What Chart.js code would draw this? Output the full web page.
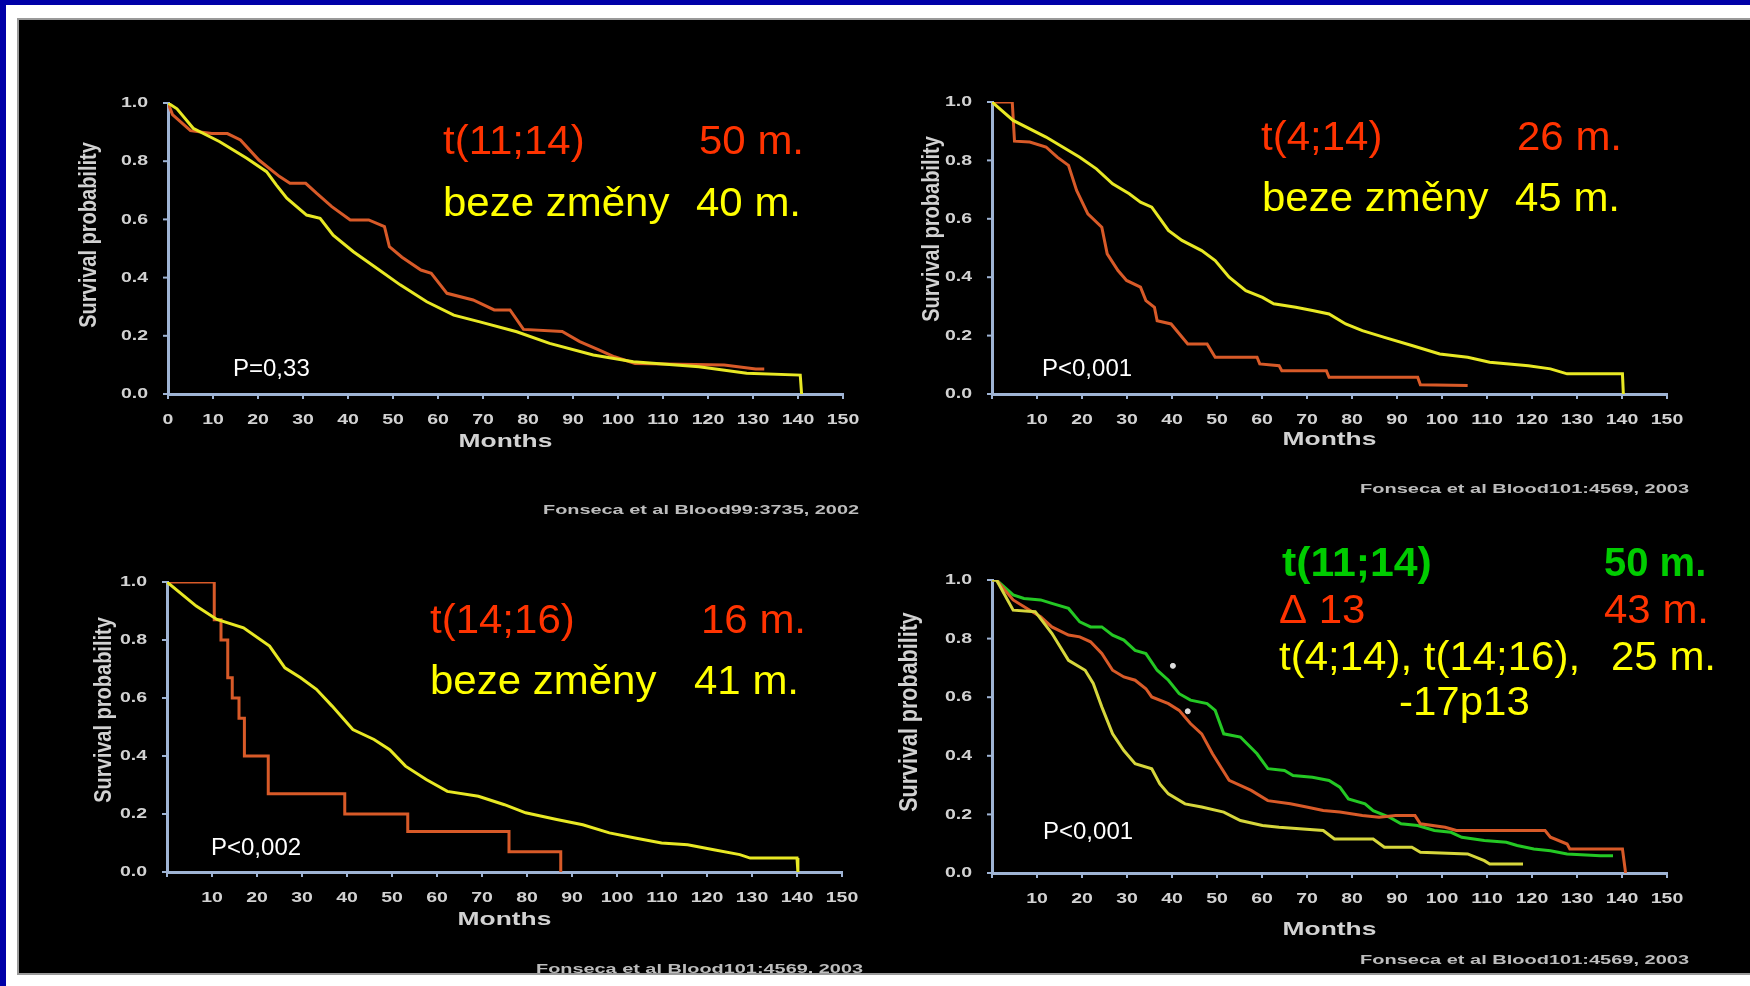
<!DOCTYPE html>
<html><head><meta charset="utf-8">
<script src="https://cdn.jsdelivr.net/npm/chart.js@4.4.1/dist/chart.umd.min.js"></script>
<style>
html,body{margin:0;padding:0;background:#000;}
#page{position:relative;width:1750px;height:986px;background:#000;overflow:hidden;}
.b{position:absolute;}
canvas{position:absolute;left:0;top:0;}
</style></head><body>
<div id="page">
  <div class="b" style="left:0;top:0;width:1750px;height:5px;background:#0000a8;z-index:5"></div>
  <div class="b" style="left:0;top:0;width:6px;height:986px;background:#0000a8;z-index:5"></div>
  <div class="b" style="left:6px;top:5px;width:1744px;height:13px;background:#fff;z-index:4"></div>
  <div class="b" style="left:6px;top:5px;width:11px;height:981px;background:#fff;z-index:4"></div>
  <div class="b" style="left:17px;top:18px;width:1733px;height:2px;background:#9a9a9a;z-index:4"></div>
  <div class="b" style="left:17px;top:18px;width:2px;height:957px;background:#9a9a9a;z-index:4"></div>
  <div class="b" style="left:6px;top:975px;width:1744px;height:11px;background:#fff;z-index:4"></div>
  <div class="b" style="left:17px;top:973px;width:1733px;height:2px;background:#9a9a9a;z-index:4"></div>
  <canvas id="c1" width="1750" height="986"></canvas>
  <canvas id="c2" width="1750" height="986"></canvas>
  <canvas id="c3" width="1750" height="986"></canvas>
  <canvas id="c4" width="1750" height="986"></canvas>
</div>
<script>
// ---------- DATA ----------
// Panel 1: t(11;14) vs beze změny
const p1RedT = [0, 1, 5, 9.7, 13.2, 16.1, 20.2, 24.8, 27.1, 30.6, 33, 36.4, 40.5, 44.6, 48.1, 49.2, 52, 56.2, 58.5, 62, 67.8, 72.5, 76, 79, 87.6, 91.5, 96, 99.2, 103.8, 123.6, 130.6, 132.5];
const p1RedS = [1.0, 0.96, 0.905, 0.895, 0.895, 0.873, 0.804, 0.747, 0.724, 0.724, 0.69, 0.644, 0.598, 0.598, 0.575, 0.506, 0.47, 0.426, 0.415, 0.346, 0.323, 0.289, 0.289, 0.222, 0.215, 0.18, 0.15, 0.128, 0.105, 0.1, 0.086, 0.086];
const p1YelT = [0, 2, 5.6, 11.5, 17.5, 21.9, 24.1, 26.4, 30.8, 33.8, 36.7, 41.2, 46.4, 51.6, 57.5, 63.5, 69.3, 77.5, 84.8, 94.5, 103.4, 118, 128.6, 140.5, 140.8];
const p1YelS = [1.0, 0.98, 0.913, 0.867, 0.81, 0.764, 0.718, 0.673, 0.615, 0.604, 0.546, 0.489, 0.432, 0.375, 0.317, 0.271, 0.248, 0.214, 0.174, 0.134, 0.111, 0.094, 0.071, 0.065, 0.0];

// Panel 2: t(4;14) vs beze změny
const p2RedT = [0, 4.5, 5, 8.4, 12, 14.5, 17, 18.8, 21.3, 24.4, 25.6, 28, 29.9, 33, 34.2, 36.1, 36.7, 39.8, 43.5, 47.8, 49.6, 58.9, 59.5, 63.8, 64.4, 74.3, 74.9, 94.6, 95.2, 105.7];
const p2RedS = [1.0, 1.0, 0.866, 0.863, 0.846, 0.811, 0.783, 0.697, 0.617, 0.571, 0.48, 0.423, 0.389, 0.366, 0.32, 0.297, 0.251, 0.24, 0.171, 0.171, 0.126, 0.126, 0.103, 0.097, 0.08, 0.08, 0.057, 0.057, 0.032, 0.029];
const p2YelT = [0, 4.7, 12, 19.5, 23.2, 26.8, 30.5, 33, 35.5, 39.2, 42.2, 46.6, 49.6, 52.7, 56.4, 60.1, 62.6, 67.5, 71.2, 74.9, 78.6, 82.3, 87.2, 93.3, 99.5, 105.7, 110.6, 119.2, 124.1, 127.8, 138.9, 140.1, 140.3];
const p2YelS = [1.0, 0.937, 0.88, 0.811, 0.771, 0.72, 0.686, 0.657, 0.64, 0.56, 0.526, 0.491, 0.457, 0.4, 0.354, 0.331, 0.309, 0.297, 0.286, 0.274, 0.24, 0.217, 0.194, 0.166, 0.137, 0.126, 0.109, 0.097, 0.086, 0.069, 0.069, 0.069, 0.0];

// Panel 3: t(14;16) vs beze změny
const p3RedT = [0, 10.5, 12, 13.5, 14.5, 16, 17.2, 22.5, 39.5, 53.5, 76, 87.5];
const p3RedS = [1.0, 0.87, 0.80, 0.67, 0.60, 0.53, 0.40, 0.27, 0.20, 0.14, 0.07, 0.0];
const p3YelT = [0, 6.5, 11.1, 17, 22.8, 26.2, 29.7, 33.2, 36.7, 41.3, 46, 49.5, 53, 57.6, 62.3, 69.2, 75, 79.7, 86.6, 92.4, 98.3, 104, 109.9, 115.7, 121.5, 127.3, 129.6, 140, 140.2];
const p3YelS = [1.0, 0.917, 0.871, 0.842, 0.779, 0.704, 0.67, 0.63, 0.572, 0.491, 0.457, 0.422, 0.365, 0.319, 0.278, 0.261, 0.232, 0.204, 0.181, 0.163, 0.135, 0.117, 0.1, 0.094, 0.077, 0.06, 0.048, 0.048, 0.0];

// Panel 4: t(11;14), delta 13, t(4;14)/t(14;16)/-17p13
const p4GrnT = [0, 1, 4.7, 7.1, 10.8, 13.3, 17, 19.5, 21.9, 24.4, 26.8, 29.3, 31.8, 34.2, 36.7, 39.2, 41.6, 44.1, 47.8, 49.6, 51.5, 55.2, 58.9, 61.3, 65, 66.9, 71.2, 74.9, 77.3, 79.2, 82.9, 84.7, 88.4, 90.9, 94.6, 98.3, 102, 104.4, 109.4, 114.3, 116.7, 120.4, 124.1, 127.8, 135.2, 138];
const p4GrnS = [1.0, 1.0, 0.949, 0.937, 0.932, 0.92, 0.903, 0.857, 0.84, 0.84, 0.812, 0.795, 0.76, 0.749, 0.692, 0.658, 0.612, 0.59, 0.578, 0.555, 0.475, 0.464, 0.407, 0.356, 0.35, 0.333, 0.327, 0.316, 0.293, 0.253, 0.236, 0.213, 0.19, 0.168, 0.162, 0.145, 0.139, 0.122, 0.111, 0.105, 0.094, 0.082, 0.076, 0.065, 0.059, 0.059];
const p4RedT = [0, 1, 4.7, 8.4, 10.8, 13.3, 17, 19.5, 21.9, 24.4, 26.8, 29.3, 31.8, 34.2, 35.5, 39.2, 41.6, 44.1, 46.6, 49, 52.7, 57.6, 61.3, 66.3, 69.9, 73.6, 77.3, 82.3, 86, 89.7, 94, 95.2, 100.7, 103.2, 122.9, 124.1, 127.8, 128.4, 140.1, 140.8];
const p4RedS = [1.0, 1.0, 0.932, 0.897, 0.875, 0.84, 0.812, 0.806, 0.789, 0.749, 0.692, 0.669, 0.658, 0.629, 0.601, 0.578, 0.555, 0.51, 0.475, 0.407, 0.316, 0.282, 0.247, 0.236, 0.225, 0.213, 0.208, 0.196, 0.19, 0.196, 0.196, 0.168, 0.156, 0.145, 0.145, 0.122, 0.099, 0.082, 0.082, 0.0];
const p4YelT = [0, 1, 4.7, 9.6, 13.3, 17, 20.7, 22.5, 24.4, 26.8, 29.3, 31.8, 35.5, 37.3, 39.2, 42.9, 46.6, 51.5, 55.2, 60.1, 63.8, 73.6, 76.1, 84.7, 87.2, 93.3, 95.2, 105.7, 109.4, 110.6, 118];
const p4YelS = [1.0, 1.0, 0.897, 0.892, 0.818, 0.726, 0.692, 0.647, 0.567, 0.475, 0.418, 0.373, 0.356, 0.304, 0.27, 0.236, 0.225, 0.208, 0.179, 0.162, 0.156, 0.145, 0.116, 0.116, 0.088, 0.088, 0.071, 0.065, 0.042, 0.031, 0.031];
const p4MarkT = [40.2, 43.5];
const p4MarkS = [0.707, 0.552];

// Tick labels
const xTicksWithZero = [0,10,20,30,40,50,60,70,80,90,100,110,120,130,140,150];
const xTicksNoZero = [10,20,30,40,50,60,70,80,90,100,110,120,130,140,150];
const yTicks = [0, 0.2, 0.4, 0.6, 0.8, 1.0];
const yTickLabels = ['0.0','0.2','0.4','0.6','0.8','1.0'];

// ---------- DRAWING ----------
const FONT = "'Liberation Sans', Arial, sans-serif";
const AXIS = '#9fb4d4';
const LBL = '#d2d2d2';
const RED_T = '#ff3300', YEL_T = '#ffff00', GRN_T = '#00cc00';

function pts(T, S){ return T.map((t,i)=>({x:t, y:S[i]})); }

function txt(ctx, s, x, y, font, color, align, sx, base){
  ctx.save();
  ctx.font = font; ctx.fillStyle = color;
  ctx.textAlign = align || 'left'; ctx.textBaseline = base || 'alphabetic';
  ctx.translate(x, y); ctx.scale(sx || 1, 1);
  ctx.fillText(s, 0, 0);
  ctx.restore();
}
function fitTxt(ctx, s, xRight, y, font, color, width){
  ctx.save(); ctx.font = font;
  const w = ctx.measureText(s).width;
  ctx.fillStyle = color; ctx.textAlign = 'right'; ctx.textBaseline = 'middle';
  ctx.translate(xRight, y); ctx.scale(width / w, 1);
  ctx.fillText(s, 0, 0); ctx.restore();
}

const decorPlugin = {
  id: 'decor',
  afterDraw(chart){
    const cfg = chart.options.plugins.decor;
    const ctx = chart.ctx;
    const xs = chart.scales.x, ys = chart.scales.y;
    const ca = chart.chartArea;
    // tick marks
    ctx.save(); ctx.strokeStyle = AXIS; ctx.lineWidth = 2;
    xTicksWithZero.forEach(v=>{ const px = xs.getPixelForValue(v); ctx.beginPath(); ctx.moveTo(px, ca.bottom); ctx.lineTo(px, ca.bottom+5); ctx.stroke(); });
    yTicks.forEach(v=>{ const py = ys.getPixelForValue(v); ctx.beginPath(); ctx.moveTo(ca.left-5, py); ctx.lineTo(ca.left, py); ctx.stroke(); });
    ctx.restore();
    // tick labels
    const tf = 'bold 15px ' + FONT;
    cfg.xTicks.forEach(v=>{ txt(ctx, String(v), xs.getPixelForValue(v), ca.bottom + 26, tf, LBL, 'center', 1.3, 'middle'); });
    yTicks.forEach((v,i)=>{ txt(ctx, yTickLabels[i], ca.left - 20, ys.getPixelForValue(v), tf, LBL, 'right', 1.3, 'middle'); });
    // axis titles
    txt(ctx, 'Months', (ca.left+ca.right)/2, ca.bottom + cfg.monthsDy, 'bold 19px ' + FONT, LBL, 'center', 1.39, 'middle');
    ctx.save();
    ctx.translate(cfg.yTitle[0], cfg.yTitle[1]); ctx.rotate(-Math.PI/2); ctx.scale(1, 1.2);
    ctx.font = 'bold ' + cfg.yTitle[2] + 'px ' + FONT; ctx.fillStyle = LBL; ctx.textAlign='center'; ctx.textBaseline='middle';
    ctx.fillText('Survival probability', 0, 0); ctx.restore();
    // annotations
    cfg.texts.forEach(t=>{ txt(ctx, t[0], t[1], t[2], (t[5]||'') + ' 40px ' + FONT, t[3], 'left', t[4]); });
    txt(ctx, cfg.p[0], cfg.p[1], cfg.p[2], '24px ' + FONT, '#ffffff', 'left', 1);
    fitTxt(ctx, cfg.cite[0], cfg.cite[1], cfg.cite[2], 'bold 12px ' + FONT, '#bdbdbd', cfg.cite[3]);
  }
};

function makeChart(id, pad, datasets, decor){
  return new Chart(document.getElementById(id), {
    type: 'line',
    data: { datasets },
    options: {
      responsive: false, animation: false, events: [],
      layout: { padding: pad },
      plugins: { legend: {display:false}, tooltip: {enabled:false}, decor },
      elements: { point: { radius: 0 }, line: { borderWidth: 3, tension: 0, fill: false } },
      scales: {
        x: { type:'linear', min:0, max:150, ticks:{display:false},
             grid:{display:true, drawOnChartArea:false, drawTicks:false},
             border:{display:true, color:AXIS, width:3} },
        y: { type:'linear', min:0, max:1, ticks:{display:false},
             grid:{display:true, drawOnChartArea:false, drawTicks:false},
             border:{display:true, color:AXIS, width:3} }
      }
    },
    plugins: [decorPlugin]
  });
}

const RED_L = '#d85a28', YEL_L = '#e8e824', GRN_L = '#24c824', YEL4_L = '#d6d63c';

makeChart('c1', {left:168, right:907, top:103, bottom:592}, [
  { data: pts(p1YelT, p1YelS), borderColor: YEL_L },
  { data: pts(p1RedT, p1RedS), borderColor: RED_L }
], {
  xTicks: xTicksWithZero, monthsDy: 48, yTitle: [89, 235, 20],
  texts: [['t(11;14)', 443, 154, RED_T, 1.05], ['50 m.', 699, 154, RED_T, 1.05],
          ['beze změny', 443, 216, YEL_T, 1.05], ['40 m.', 696, 216, YEL_T, 1.05]],
  p: ['P=0,33', 233, 376], cite: ['Fonseca et al Blood99:3735, 2002', 859, 511, 316]
});

makeChart('c2', {left:992, right:83, top:102, bottom:592}, [
  { data: pts(p2YelT, p2YelS), borderColor: YEL_L },
  { data: pts(p2RedT, p2RedS), borderColor: RED_L }
], {
  xTicks: xTicksNoZero, monthsDy: 46, yTitle: [932, 229, 20],
  texts: [['t(4;14)', 1261, 150, RED_T, 1.05], ['26 m.', 1517, 150, RED_T, 1.05],
          ['beze změny', 1262, 211, YEL_T, 1.05], ['45 m.', 1515, 211, YEL_T, 1.05]],
  p: ['P<0,001', 1042, 376], cite: ['Fonseca et al Blood101:4569, 2003', 1689, 490, 329]
});

makeChart('c3', {left:167, right:908, top:582, bottom:114}, [
  { data: pts(p3YelT, p3YelS), borderColor: YEL_L },
  { data: pts(p3RedT, p3RedS), borderColor: RED_L, stepped: 'before' }
], {
  xTicks: xTicksNoZero, monthsDy: 48, yTitle: [104, 710, 20],
  texts: [['t(14;16)', 430, 633, RED_T, 1.05], ['16 m.', 701, 633, RED_T, 1.05],
          ['beze změny', 430, 694, YEL_T, 1.05], ['41 m.', 694, 694, YEL_T, 1.05]],
  p: ['P<0,002', 211, 855], cite: ['Fonseca et al Blood101:4569, 2003', 863, 970, 327]
});

makeChart('c4', {left:992, right:83, top:580, bottom:113}, [
  { data: pts(p4YelT, p4YelS), borderColor: YEL4_L },
  { data: pts(p4RedT, p4RedS), borderColor: RED_L },
  { data: pts(p4GrnT, p4GrnS), borderColor: GRN_L },
  { type: 'scatter', data: pts(p4MarkT, p4MarkS), borderColor: '#dddddd', backgroundColor: '#dddddd', pointRadius: 2.5, showLine: false }
], {
  xTicks: xTicksNoZero, monthsDy: 57, yTitle: [910, 712, 21.5],
  texts: [['t(11;14)', 1282, 576, GRN_T, 1.07, 'bold'], ['50 m.', 1604, 576, GRN_T, 1.0, 'bold'],
          ['Δ 13', 1279, 623, RED_T, 1.05], ['43 m.', 1604, 623, RED_T, 1.05],
          ['t(4;14), t(14;16),', 1279, 670, YEL_T, 1.05], ['25 m.', 1611, 670, YEL_T, 1.05],
          ['-17p13', 1399, 715, YEL_T, 1.05]],
  p: ['P<0,001', 1043, 839], cite: ['Fonseca et al Blood101:4569, 2003', 1689, 961, 329]
});
</script>
</body></html>
